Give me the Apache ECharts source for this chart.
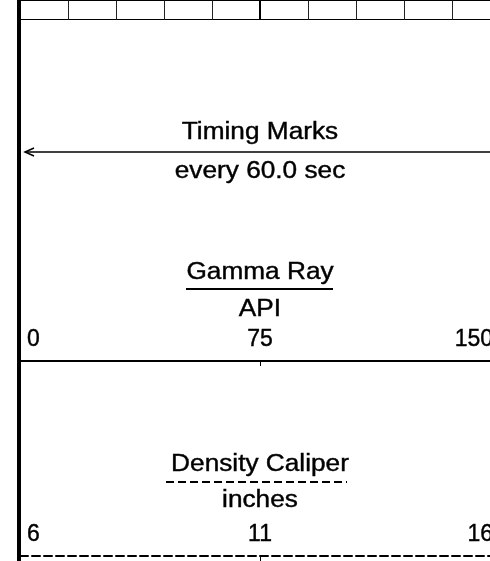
<!DOCTYPE html>
<html>
<head>
<meta charset="utf-8">
<script src="https://cdn.jsdelivr.net/npm/echarts@6/dist/echarts.min.js"></script>
<style>
  html, body { margin: 0; padding: 0; background: #fff; }
  #main { width: 490px; height: 561px; }
</style>
</head>
<body>
<div id="main"></div>
<script>
// header strip divisions
const scaleDivisions = [0, 10];
// timing marks track
const timingLine = [0, 10];
const timingTitle = 'Timing Marks';
const timingUnit = 'every 60.0 sec';
// gamma ray curve
const gammaTitle = 'Gamma Ray';
const gammaUnit = 'API';
const gammaRange = [0, 150];
const gammaStep = 75;
// density caliper curve
const caliperTitle = 'Density Caliper';
const caliperUnit = 'inches';
const caliperRange = [6, 16];
const caliperStep = 5;

const FONT = '"Liberation Sans", Arial, sans-serif';
const CX = 260; // track centre
const SX = 1.14; // text is drawn a bit wide in the original

function title(text, y) {
  return {
    type: 'text', x: CX, y: y, scaleX: SX, silent: true,
    style: {
      text: text, x: 0, y: 0, fill: '#000',
      font: '23px ' + FONT,
      stroke: '#000', lineWidth: 0.4,
      align: 'center', textAlign: 'center',
      verticalAlign: 'middle', textVerticalAlign: 'middle'
    }
  };
}

function scaleAxis(gridIndex, range, step, dashed) {
  return {
    gridIndex: gridIndex,
    type: 'value',
    position: 'bottom',
    min: range[0],
    max: range[1],
    interval: step,
    axisLine: { show: true, onZero: false, lineStyle: { color: '#000', width: 2, type: dashed ? [8, 4] : 'solid' } },
    axisTick: { show: true, length: 5, lineStyle: { color: '#000', width: 1 } },
    splitLine: { show: false },
    axisLabel: {
      inside: true, margin: 10, color: '#000', fontSize: 23, fontFamily: FONT,
      textBorderColor: '#000', textBorderWidth: 0.4,
      alignMinLabel: 'left', alignMaxLabel: 'right', padding: [0, 7, 0, 7]
    }
  };
}

function hiddenY(gridIndex, min, max) {
  return { gridIndex: gridIndex, type: 'value', min: min, max: max, show: false };
}

function track(top, height, extra) {
  return Object.assign({ left: 20, top: top, height: height, width: 480, outerBoundsMode: 'none' }, extra || {});
}

const chart = echarts.init(document.getElementById('main'));

chart.setOption({
  animation: false,
  backgroundColor: '#fff',
  grid: [
    { left: 19, top: 0, bottom: 0, width: 480, outerBoundsMode: 'none' },             // frame
    track(0.5, 19, { show: true, borderColor: '#000', borderWidth: 1 }),              // header strip
    track(140, 24),                                                                   // timing marks
    track(300, 61),                                                                   // gamma ray
    track(495, 61)                                                                    // caliper
  ],
  xAxis: [
    { gridIndex: 0, type: 'value', min: 0, max: 1, show: false },
    {
      gridIndex: 1, type: 'value', min: scaleDivisions[0], max: scaleDivisions[1], interval: 1,
      axisLine: { show: false }, axisTick: { show: false }, axisLabel: { show: false },
      splitLine: { show: true, lineStyle: { color: '#222', width: 1 } }
    },
    { gridIndex: 2, type: 'value', min: timingLine[0], max: timingLine[1], show: false },
    scaleAxis(3, gammaRange, gammaStep, false),
    scaleAxis(4, caliperRange, caliperStep, true)
  ],
  yAxis: [
    {
      gridIndex: 0, type: 'value', min: 0, max: 1,
      axisLine: { show: true, lineStyle: { color: '#000', width: 4 } },
      axisTick: { show: false }, axisLabel: { show: false }, splitLine: { show: false }
    },
    hiddenY(1, 0, 1),
    hiddenY(2, 0, 2),
    hiddenY(3, 0, 1),
    hiddenY(4, 0, 1)
  ],
  series: [
    {
      type: 'line', xAxisIndex: 1, yAxisIndex: 1, data: [], silent: true,
      markLine: {
        silent: true, symbol: 'none', label: { show: false },
        lineStyle: { color: '#000', width: 2, type: 'solid' },
        data: [{ xAxis: (scaleDivisions[0] + scaleDivisions[1]) / 2 }]
      }
    },
    {
      type: 'custom', xAxisIndex: 2, yAxisIndex: 2, silent: true,
      data: [[timingLine[0], timingLine[1], 1]],
      renderItem: function (params, api) {
        const a = api.coord([api.value(0), api.value(2)]);
        const b = api.coord([api.value(1), api.value(2)]);
        const tip = a[0] + 5;
        return {
          type: 'group',
          children: [
            { type: 'line', shape: { x1: tip, y1: a[1], x2: b[0], y2: b[1] }, style: { stroke: '#000', lineWidth: 1.5 } },
            {
              type: 'polyline',
              shape: { points: [[tip + 9, a[1] - 4], [tip, a[1]], [tip + 9, a[1] + 4]] },
              style: { stroke: '#000', fill: null, lineWidth: 1.5 }
            }
          ]
        };
      }
    }
  ],
  graphic: [
    title(timingTitle, 133),
    title(timingUnit, 172),
    title(gammaTitle, 273),
    { type: 'line', silent: true, shape: { x1: CX - 74, y1: 289, x2: CX + 73, y2: 289 }, style: { stroke: '#000', lineWidth: 2 } },
    title(gammaUnit, 310),
    title(caliperTitle, 465),
    { type: 'line', silent: true, shape: { x1: CX - 94, y1: 482, x2: CX + 87, y2: 482 }, style: { stroke: '#000', lineWidth: 2, lineDash: [8, 4] } },
    title(caliperUnit, 501)
  ]
});
</script>
</body>
</html>
